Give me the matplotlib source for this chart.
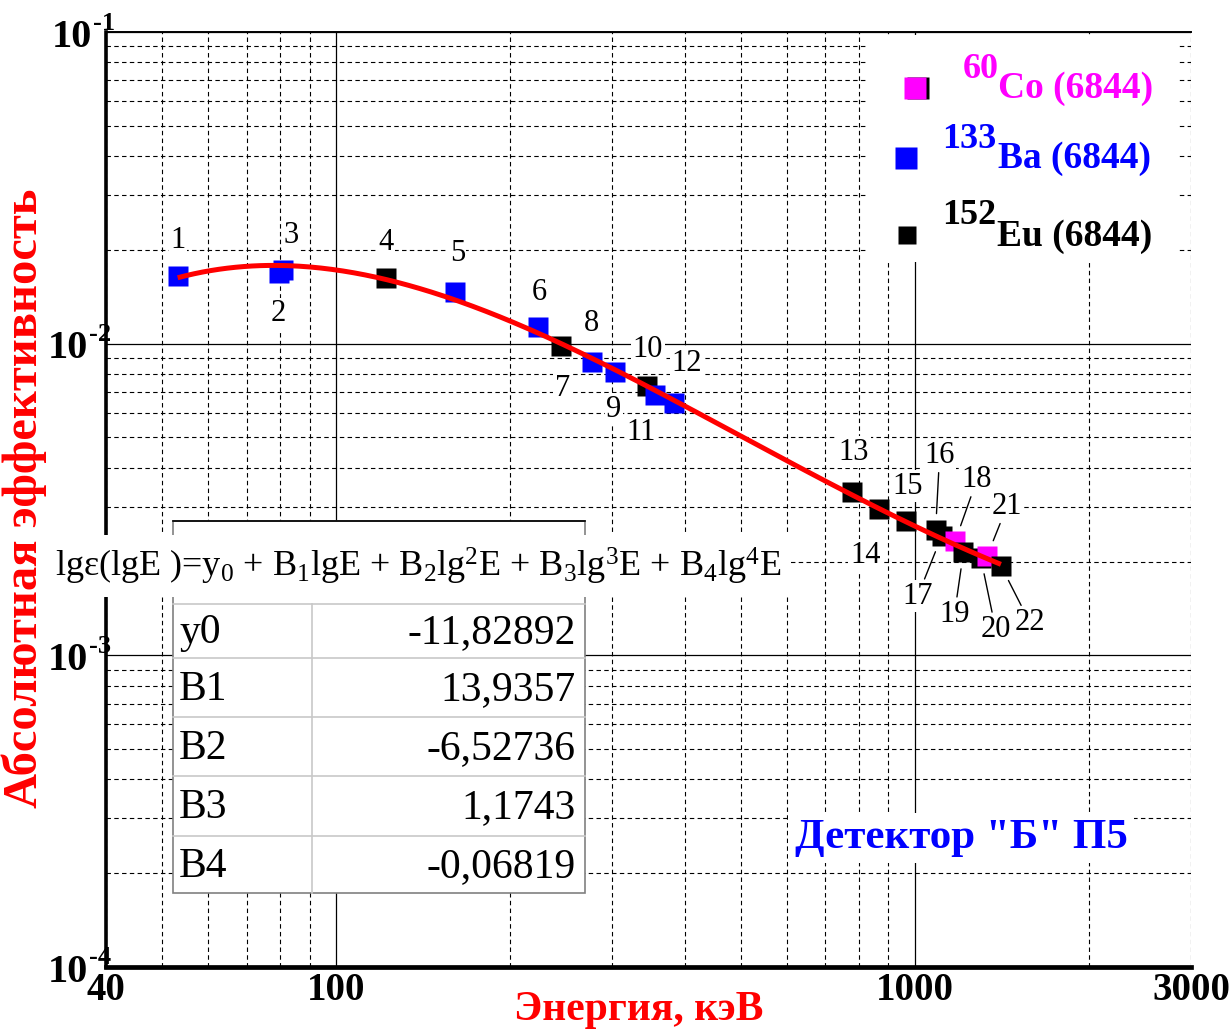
import numpy as np
import matplotlib.pyplot as plt
from matplotlib.ticker import LogLocator, NullFormatter
from matplotlib.patches import Rectangle
from matplotlib.lines import Line2D

plt.rcParams['font.family'] = ['Liberation Serif', 'DejaVu Serif']
plt.rcParams['mathtext.fontset'] = 'custom'
plt.rcParams['mathtext.rm'] = 'Liberation Serif'
plt.rcParams['mathtext.it'] = 'Liberation Serif:italic'
plt.rcParams['mathtext.bf'] = 'Liberation Serif:bold'
plt.rcParams['mathtext.default'] = 'regular'

W, H = 1231, 1035

# --- data ---
point_numbers = list(range(1, 23))
energy_kev = [53.2, 79.6, 81.0, 121.8, 160.6, 223.2, 244.7, 276.4, 302.9, 344.3, 356.0,
              383.9, 778.9, 867.4, 964.1, 1085.8, 1112.1, 1173.2, 1212.9, 1299.1, 1332.5, 1408.0]
efficiency = [0.01651, 0.01689, 0.01727, 0.01620, 0.01468, 0.01134, 0.00980, 0.00871,
              0.00809, 0.00733, 0.00686, 0.00647, 0.00334, 0.00294, 0.00269, 0.00252,
              0.00241, 0.00232, 0.00214, 0.00206, 0.00208, 0.00194]
source = ['Ba', 'Ba', 'Ba', 'Eu', 'Ba', 'Ba', 'Eu', 'Ba', 'Ba', 'Eu', 'Ba',
          'Ba', 'Eu', 'Eu', 'Eu', 'Eu', 'Eu', 'Co', 'Eu', 'Eu', 'Co', 'Eu']
source_colors = {'Co': '#ff00ff', 'Ba': '#0000ff', 'Eu': '#000000'}

coef_names = ['y0', 'B1', 'B2', 'B3', 'B4']
coef_values = [-11.82892, 13.9357, -6.52736, 1.1743, -0.06819]
coef_text = ['-11,82892', '13,9357', '-6,52736', '1,1743', '-0,06819']

# label offsets (pixels, screen x right / y down) and whether a leader line is drawn
label_offsets = [(0, -35), (-1, 41), (8, -34), (0, -36), (2, -38), (1, -34), (1, 42),
                 (0, -39), (-1, 37), (1, -36), (-14, 38), (12, -39), (2, -40), (-14, 46),
                 (2, -35), (4, -75), (-24, 60), (22, -62), (-9, 62), (15, 72), (20, -50),
                 (29, 57)]
has_leader = [False] * 15 + [True] * 7

x_ticks = [40, 100, 1000, 3000]


def fxy(x, y):
    return x / W, 1 - y / H


fig = plt.figure(figsize=(W / 100, H / 100), dpi=100)
L, R, T, B = 106, 1191, 32, 967
ax = fig.add_axes([L / W, 1 - B / H, (R - L) / W, (B - T) / H])
ax.set_xscale('log')
ax.set_yscale('log')
ax.set_xlim(40, 3000)
ax.set_ylim(1e-4, 1e-1)

ax.xaxis.set_minor_locator(LogLocator(base=10, subs=np.arange(2, 10), numticks=20))
ax.yaxis.set_minor_locator(LogLocator(base=10, subs=np.arange(2, 10), numticks=20))
ax.xaxis.set_minor_formatter(NullFormatter())
ax.yaxis.set_minor_formatter(NullFormatter())
ax.grid(which='major', color='black', lw=0.9, ls='-')
ax.grid(which='minor', color='black', lw=0.8, ls=(0, (4, 3)))
ax.tick_params(which='both', length=0, labelbottom=False, labelleft=False)
ax.set_axisbelow(True)

ax.spines['left'].set_linewidth(2.6)
ax.spines['bottom'].set_linewidth(3.4)
ax.spines['top'].set_linewidth(1.4)
ax.spines['right'].set_visible(False)

# fitted polynomial curve
e_fit = np.logspace(np.log10(min(energy_kev)), np.log10(max(energy_kev)), 300)
lg = np.log10(e_fit)
lg_eff = sum(c * lg ** i for i, c in enumerate(coef_values))
ax.plot(e_fit, 10 ** lg_eff, color='red', lw=3.6, zorder=6, solid_capstyle='butt')

# points
for i, (e, v, s) in enumerate(zip(energy_kev, efficiency, source)):
    ax.plot(e, v, 's', ms=14, color=source_colors[s], mec='none', zorder=4 + i * 0.01)

# point numbers
for n, e, v, off, lead in zip(point_numbers, energy_kev, efficiency, label_offsets, has_leader):
    ap = dict(arrowstyle='-', color='black', lw=1.0, shrinkA=1, shrinkB=12) if lead else None
    ax.annotate(str(n), xy=(e, v), xytext=(off[0], -off[1]), textcoords='offset pixels',
                ha='center', va='center', fontsize=22, zorder=3,
                bbox=dict(boxstyle='square,pad=0.05', fc='white', ec='none'),
                arrowprops=ap)

# tick labels
for e in x_ticks:
    px = ax.transData.transform((e, 1e-4))[0]
    fig.text(px / W, fxy(0, 991)[1], str(e), ha='center', va='center',
             fontsize=28, fontweight='bold')
for k, exp in enumerate([-1, -2, -3, -4]):
    py = H - ax.transData.transform((40, 10.0 ** exp))[1]
    right = 92 if exp == -1 else 88
    fig.text(*fxy(right, py + 5), '10', ha='right', va='center', fontsize=29, fontweight='bold')
    fig.text(*fxy(right + 1, py - 9), str(exp), ha='left', va='center', fontsize=19,
             fontweight='bold')

fig.text(*fxy(24, 498), 'Абсолютная эффективность', rotation=90, ha='center', va='center',
         fontsize=35, fontweight='bold', color='red')
fig.text(*fxy(639, 1010), 'Энергия, кэВ', ha='center', va='center',
         fontsize=30, fontweight='bold', color='red')

# legend box
ax_tr = ax.transAxes.inverted()


def axy(x, y):
    return ax_tr.transform((x, H - y))


x0, y0 = axy(868, 262)
x1, y1 = axy(1178, 35)
ax.add_patch(Rectangle((x0, y0), x1 - x0, y1 - y0, transform=ax.transAxes, fc='white',
                       ec='none', zorder=2))
legend_rows = [('Co', '60', 'Co (6844)', 915, 88, 963, 998, 16),
               ('Ba', '133', 'Ba (6844)', 906, 158, 942, 998, 16),
               ('Eu', '152', 'Eu (6844)', 907, 235, 942, 997, 13)]
for key, sup, main, mx, my, sx, tx, msz in legend_rows:
    if key == 'Co':
        fig.add_artist(Line2D([(mx + 3) / W], [1 - my / H], marker='s', ms=msz, color='black',
                              mec='none', transform=fig.transFigure))
    fig.add_artist(Line2D([mx / W], [1 - my / H], marker='s', ms=msz, color=source_colors[key],
                          mec='none', transform=fig.transFigure))
    fig.text(*fxy(sx, my - 19), sup, ha='left', va='center', fontsize=26, fontweight='bold',
             color=source_colors[key], zorder=5)
    fig.text(*fxy(tx, my + 1), main, ha='left', va='center', fontsize=27, fontweight='bold',
             color=source_colors[key], zorder=5)

fig.text(*fxy(961, 838), 'Детектор "Б" П5', ha='center', va='center', fontsize=31,
         fontweight='bold', color='#0000ff',
         bbox=dict(boxstyle='square,pad=0.15', fc='white', ec='none'))

# coefficient table
tl, tr_, tt, tb = 173, 585, 521, 893
row_edges = [604, 658, 717, 776, 836, 893]
col_split = 312
fig.add_artist(Rectangle(fxy(tl, tb), (tr_ - tl) / W, (tb - tt) / H, transform=fig.transFigure,
                         fc='white', ec='#808080', lw=1.2))
fig.add_artist(Line2D([tl / W, tr_ / W], [1 - tt / H] * 2, color='black', lw=1.2,
                      transform=fig.transFigure))
for y in row_edges[:-1]:
    fig.add_artist(Line2D([tl / W, tr_ / W], [1 - y / H] * 2, color='#c8c8c8', lw=1.2,
                          transform=fig.transFigure))
fig.add_artist(Line2D([col_split / W] * 2, [1 - row_edges[0] / H, 1 - tb / H], color='#c8c8c8',
                      lw=1.2, transform=fig.transFigure))
for k, (name, val) in enumerate(zip(coef_names, coef_text)):
    cy = (row_edges[k] + row_edges[k + 1]) / 2 + 2
    fig.text(*fxy(179, cy), name, ha='left', va='center', fontsize=30)
    fig.text(*fxy(576, cy), val, ha='right', va='center', fontsize=30)

fig.text(*fxy(55, 566),
         r'lgε(lgE )=y$_0$ + B$_1$lgE + B$_2$lg$^2$E + B$_3$lg$^3$E + B$_4$lg$^4$E',
         ha='left', va='center', fontsize=26,
         bbox=dict(boxstyle='square,pad=0.28', fc='white', ec='none'))

fig.savefig('out.png', dpi=100)
